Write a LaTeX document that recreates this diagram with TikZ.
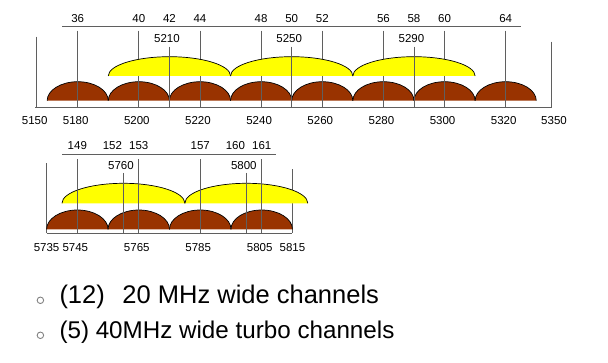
\documentclass[tikz,border=0pt]{standalone}
\usepackage{fontspec}
\setmainfont{Liberation Sans}
\definecolor{chanbrown}{RGB}{153,51,0}
\definecolor{turbo}{RGB}{255,255,0}
\definecolor{rulegray}{RGB}{95,95,95}
\begin{document}
\begin{tikzpicture}[x=1pt, y=-1pt,
    chan/.style={draw=black, line width=0.7pt, fill=chanbrown},
    wide/.style={draw=black, line width=0.7pt, fill=turbo},
    tick/.style={draw=rulegray, line width=0.8pt},
    num/.style={font=\fontsize{11.5}{13}\selectfont, inner sep=0pt},
    bullet/.style={circle, draw=gray, line width=0.9pt, minimum size=6.5pt, inner sep=0pt},
    item/.style={anchor=base west, inner sep=0pt}]

    \useasboundingbox (0,0) rectangle (608,363);

    % lower band, 5150 - 5350
    \draw[tick] (36.7,36.7) -- (36.7,107);
    \draw[tick] (551,41.7) -- (551,107);
    \draw[tick] (35,107) -- (552,107);
    \draw[tick] (62.3,26.3) -- (520.7,26.3);
    \node[num] (f5150) at (34.7,120.8) {5150};
    \node[num] (f5350) at (554,120.8) {5350};
    \begin{scope}[x=3.057pt, xshift=-14pt]
        \foreach \c/\o/\f in {36/30/5180, 40/50/5200, 44/70/5220, 48/90/5240,
                              52/110/5260, 56/130/5280, 60/150/5300, 64/170/5320} {
            \draw[chan] (\o-10,100.7) arc[start angle=180, end angle=0, x radius=30.57pt, y radius=19pt];
            \draw[tick] (\o,30.7) -- (\o,107);
            \node[num] (ch\c) at (\o,18.8) {\c};
            \node[num, xshift=-2pt] (f\f) at (\o,120.8) {\f};
        }
        \foreach \c/\o/\f in {42/60/5210, 50/100/5250, 58/140/5290} {
            \draw[wide] (\o-20,76) arc[start angle=180, end angle=0, x radius=61.14pt, y radius=19.3pt];
            \draw[tick] (\o,46.7) -- (\o,107);
            \node[num] (ch\c) at (\o,18.8) {\c};
            \node[num, xshift=-2.5pt] (f\f) at (\o,38.8) {\f};
        }
    \end{scope}

    % upper band, 5735 - 5815
    \draw[tick] (62.3,154) -- (276,154);
    \begin{scope}[x=3.073pt, xshift=46.6pt]
        \draw[tick] (0,163.3) -- (0,233.3);
        \draw[tick] (80,169.3) -- (80,233.3);
        \draw[tick] (0,233.3) -- (80,233.3);
        \node[num] (f5735) at (0,247.5) {5735};
        \node[num] (f5815) at (80,247.5) {5815};
        \foreach \c/\o/\f in {149/10/5745, 153/30/5765, 157/50/5785, 161/70/5805} {
            \draw[chan] (\o-10,229.3) arc[start angle=180, end angle=0, x radius=30.73pt, y radius=19.3pt];
        }
        \foreach \c/\o/\f in {152/25/5760, 160/65/5800} {
            \draw[wide] (\o-20,203.3) arc[start angle=180, end angle=0, x radius=61.46pt, y radius=20pt];
            \draw[tick] (\o,173) -- (\o,233.3);
            \node[num, xshift=-11pt] (ch\c) at (\o,145.8) {\c};
            \node[num, xshift=-2.5pt] (f\f) at (\o,165.8) {\f};
        }
        \foreach \c/\o/\f in {149/10/5745, 153/30/5765, 157/50/5785, 161/70/5805} {
            \draw[tick] (\o,159.5) -- (\o,233.3);
            \node[num] (ch\c) at (\o,145.8) {\c};
            \node[num, xshift=-2pt] (f\f) at (\o,247.5) {\f};
        }
    \end{scope}

    % notes
    \node[bullet] (b1) at (40.4,300.3) {};
    \node[item, font=\fontsize{25.5}{30}\selectfont] (t1) at (59.3,303.3) {(12)\hspace{0.69em}20 MHz wide channels};
    \node[bullet] (b2) at (40.4,335.3) {};
    \node[item, font=\fontsize{24.2}{29}\selectfont] (t2) at (59.3,338.3) {(5) 40MHz wide turbo channels};
\end{tikzpicture}
\end{document}
